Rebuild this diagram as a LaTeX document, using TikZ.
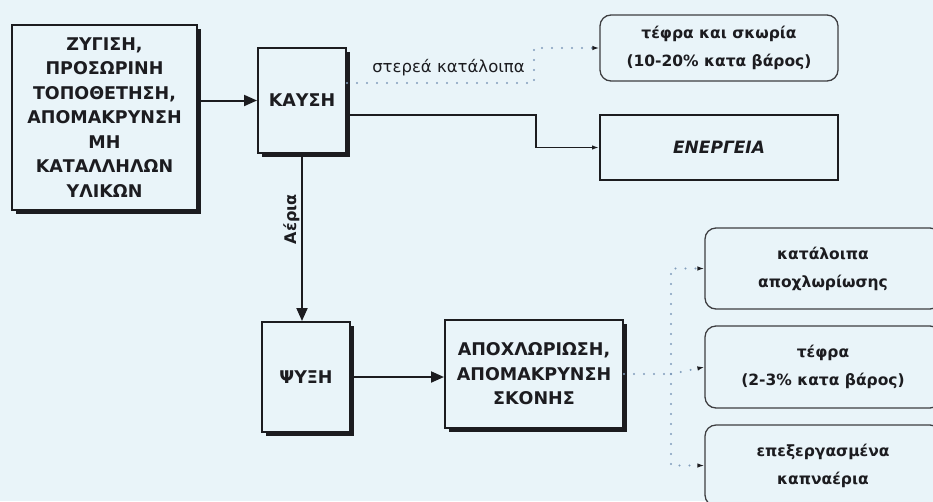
\documentclass[tikz,border=0pt]{standalone}
\usepackage{fontspec}
\setmainfont{DejaVu Sans}
\usetikzlibrary{positioning,arrows.meta,shadows}
\definecolor{paper}{RGB}{233,244,249}
\definecolor{ink}{RGB}{28,28,32}
\definecolor{dotc}{RGB}{130,158,188}
\tikzset{
  blk/.style  = {draw=ink, line width=2pt, fill=paper, align=center, text=ink,
                 font=\fontsize{17.5}{24.5}\selectfont\bfseries, inner sep=2pt},
  shd/.style  = {blk, drop shadow={shadow xshift=4pt, shadow yshift=-4pt,
                 opacity=1, fill=ink}},
  rnd/.style  = {draw=ink!85, line width=1.3pt, rounded corners=11pt, fill=paper,
                 align=center, text=ink, inner sep=2pt,
                 font=\fontsize{15.5}{28}\selectfont\bfseries},
  ar/.style   = {-{Triangle[length=13pt,width=11pt]}, line width=2pt, draw=ink},
  ars/.style  = {-{Latex[length=7pt,width=4.5pt]}, line width=1.5pt, draw=ink},
  dots/.style = {draw=dotc, line width=2.2pt, line cap=round,
                 dash pattern=on 0pt off 10pt,
                 -{Latex[length=7pt,width=4.5pt,color=ink]}},
  lbl/.style  = {font=\fontsize{16.5}{18}\selectfont, text=ink, inner sep=1pt},
}

\begin{document}
\begin{tikzpicture}[x=1pt, y=-1pt]
\useasboundingbox (0,0) rectangle (933,501);
\fill[paper] (0,0) rectangle (933,501);
\clip (0,0) rectangle (933,501);

% --- left column ---
\node[shd, minimum width=185pt, minimum height=185pt] (prep) at (104.5,117.5)
     {ΖΥΓΙΣΗ,\\ΠΡΟΣΩΡΙΝΗ\\ΤΟΠΟΘΕΤΗΣΗ,\\ΑΠΟΜΑΚΡΥΝΣΗ\\ΜΗ\\ΚΑΤΑΛΛΗΛΩΝ\\ΥΛΙΚΩΝ};

\node[shd, minimum width=88pt, minimum height=105pt] (kaysi) at (302,100.5) {ΚΑΥΣΗ};

\node[shd, minimum width=88pt, minimum height=110pt] (psyxi) at (306,377) {ΨΥΞΗ};

\node[shd, minimum width=178pt, minimum height=108pt] (apox) at (534,374)
     {ΑΠΟΧΛΩΡΙΩΣΗ,\\ΑΠΟΜΑΚΡΥΝΣΗ\\ΣΚΟΝΗΣ};

% --- outputs ---
\node[rnd, minimum width=238pt, minimum height=66pt] (tefra) at (719,48)
     {τέφρα και σκωρία\\(10-20\% κατα βάρος)};

\node[blk, minimum width=238pt, minimum height=65pt,
      font=\fontsize{17}{20}\selectfont\bfseries\itshape] (energy) at (719,147.5)
     {ΕΝΕΡΓΕΙΑ};

\node[rnd, minimum width=236pt, minimum height=81pt] (resid) at (823,268.5)
     {κατάλοιπα\\αποχλωρίωσης};
\node[rnd, minimum width=236pt, minimum height=82pt] (ash) at (823,367)
     {τέφρα\\(2-3\% κατα βάρος)};
\node[rnd, minimum width=236pt, minimum height=81pt] (flue) at (823,465.5)
     {επεξεργασμένα\\καπναέρια};

\coordinate[right=47pt of apox.east] (fork);

% --- arrows ---
\draw[ar] (kaysi.west -| prep.east) -- (kaysi.west);
\draw[ar] (kaysi.south) -- node[lbl, rotate=90, above=5pt, pos=0.42,
     font=\fontsize{16}{18}\selectfont\bfseries] {Αέρια}
     (kaysi.south |- psyxi.north);
\draw[ar] (psyxi.east) -- (psyxi.east -| apox.west);
\draw[ars] ([yshift=-14.5pt]kaysi.east) -- ++(189,0) |- (energy.west);

% solid residues, dotted
\draw[dots] ([yshift=17.5pt]kaysi.east) -- node[lbl, above=5pt, xshift=8pt] {στερεά κατάλοιπα}
     ++(187,0) |- (tefra.west);

% flue gas treatment outputs
\draw[dots, -] (apox.east) -- (fork);
\draw[dots] (fork) |- (resid.west);
\draw[dots] (fork) -- (ash.west);
\draw[dots] (fork) |- (flue.west);
\end{tikzpicture}
\end{document}
